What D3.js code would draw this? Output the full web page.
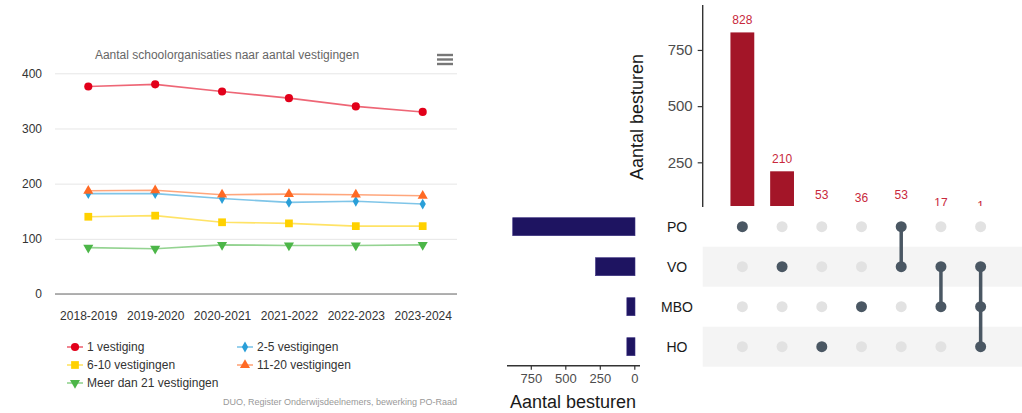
<!DOCTYPE html>
<html>
<head>
<meta charset="utf-8">
<script src="https://cdn.jsdelivr.net/npm/d3@7.9.0/dist/d3.min.js"></script>
<style>
  html, body { margin: 0; padding: 0; background: #fff; }
  svg { display: block; font-family: "Liberation Sans", Arial, Helvetica, sans-serif; }
</style>
</head>
<body>
<svg id="chart" width="1022" height="413"></svg>
<script>
// line chart data
const years = ['2018-2019', '2019-2020', '2020-2021', '2021-2022', '2022-2023', '2023-2024'];
const oneVestiging = [376, 380, 367, 355, 340, 330];
const twoToFive = [182, 182, 173, 166, 168, 163];
const sixToTen = [140, 142, 130, 128, 123, 123];
const elevenToTwenty = [187, 188, 180, 181, 180, 178];
const moreThan21 = [84, 82, 89, 88, 88, 89];
const yTicks = [0, 100, 200, 300, 400];

// upset data
const sets = ['PO', 'VO', 'MBO', 'HO'];
const combos = [['PO'], ['VO'], ['HO'], ['MBO'], ['PO', 'VO'], ['VO', 'MBO'], ['VO', 'MBO', 'HO']];
const comboCounts = [828, 210, 53, 36, 53, 17, 1];
const barTicks = [250, 500, 750];
const sizeTicks = [0, 250, 500, 750];

const svg = d3.select('#chart');

// ---------- left: line chart ----------
const series = [
  { name: '1 vestiging', values: oneVestiging, color: '#e2001a', symbol: d3.symbolCircle, size: 52, rot: 0 },
  { name: '2-5 vestigingen', values: twoToFive, color: '#2a9fd8', symbol: d3.symbolDiamond, size: 34, rot: 0 },
  { name: '6-10 vestigingen', values: sixToTen, color: '#ffd100', symbol: d3.symbolSquare, size: 60, rot: 0 },
  { name: '11-20 vestigingen', values: elevenToTwenty, color: '#ff6a24', symbol: d3.symbolTriangle, size: 44, rot: 0 },
  { name: 'Meer dan 21 vestigingen', values: moreThan21, color: '#4cb648', symbol: d3.symbolTriangle, size: 44, rot: 180 },
];

const x = d3.scalePoint().domain(years).range([88.3, 422.7]);
const y = d3.scaleLinear().domain([0, 400]).range([294, 73.3]);
const plotLeft = 55, plotRight = 457;

const left = svg.append('g');

left.append('text')
  .attr('x', 227).attr('y', 59)
  .attr('text-anchor', 'middle')
  .attr('font-size', 12)
  .attr('fill', '#666')
  .text('Aantal schoolorganisaties naar aantal vestigingen');

// menu icon
left.append('g').selectAll('line')
  .data([55, 59.5, 64])
  .join('line')
  .attr('x1', 437).attr('x2', 453)
  .attr('y1', d => d).attr('y2', d => d)
  .attr('stroke', '#777').attr('stroke-width', 2.4);

const yAxis = left.append('g')
  .attr('transform', `translate(${plotLeft},0)`)
  .call(d3.axisLeft(y).tickValues(yTicks).tickSize(-(plotRight - plotLeft)).tickPadding(13));
yAxis.select('.domain').remove();
yAxis.selectAll('line').attr('stroke', '#e6e6e6');
yAxis.selectAll('text').attr('font-size', 12).attr('fill', '#333').attr('font-family', null);

left.append('line')
  .attr('x1', plotLeft).attr('x2', plotRight)
  .attr('y1', y(0)).attr('y2', y(0))
  .attr('stroke', '#999').attr('stroke-width', 1.5);

const xAxis = left.append('g')
  .attr('transform', `translate(0,${y(0)})`)
  .call(d3.axisBottom(x).tickSize(0).tickPadding(17));
xAxis.select('.domain').remove();
xAxis.selectAll('text').attr('font-size', 12).attr('fill', '#333').attr('font-family', null);

const line = d3.line().x((d, i) => x(years[i])).y(d => y(d));

series.forEach(s => {
  left.append('path')
    .attr('d', line(s.values))
    .attr('fill', 'none')
    .attr('stroke', s.color)
    .attr('stroke-opacity', 0.6)
    .attr('stroke-width', 1.6);
  left.append('g').selectAll('path')
    .data(s.values)
    .join('path')
    .attr('d', d3.symbol(s.symbol, s.size))
    .attr('transform', (d, i) => `translate(${x(years[i])},${y(d)}) rotate(${s.rot})`)
    .attr('fill', s.color);
});

// legend
const legendPos = [[75, 347], [245, 347], [75, 365], [245, 365], [75, 383]];
series.forEach((s, i) => {
  const [lx, ly] = legendPos[i];
  const g = left.append('g').attr('transform', `translate(${lx},${ly})`);
  g.append('line').attr('x1', -8).attr('x2', 8)
    .attr('stroke', s.color).attr('stroke-opacity', 0.6).attr('stroke-width', 1.6);
  g.append('path').attr('d', d3.symbol(s.symbol, s.size)).attr('transform', `rotate(${s.rot})`).attr('fill', s.color);
  g.append('text').attr('x', 12).attr('dy', '0.35em')
    .attr('font-size', 12).attr('fill', '#333').text(s.name);
});

left.append('text')
  .attr('x', 457).attr('y', 405)
  .attr('text-anchor', 'end')
  .attr('font-size', 9)
  .attr('fill', '#999')
  .text('DUO, Register Onderwijsdeelnemers, bewerking PO-Raad');

// ---------- right: upset plot ----------
const right = svg.append('g');
const axisX = 702.7, topBottom = 206;

const cx = d3.scaleBand().domain(d3.range(combos.length)).range([722.5, 1000.5]).paddingInner(0.4).paddingOuter(0.2);
const by = d3.scaleLinear().domain([0, 950]).range([218.5, 5]);
const ry = d3.scaleBand().domain(sets).range([206.7, 366.7]);

// stripes
right.append('g').selectAll('rect')
  .data(sets.filter((d, i) => i % 2 === 1))
  .join('rect')
  .attr('x', axisX).attr('width', 1022 - axisX)
  .attr('y', d => ry(d)).attr('height', ry.bandwidth())
  .attr('fill', '#f4f4f4');

right.append('clipPath').attr('id', 'barclip')
  .append('rect').attr('x', axisX).attr('y', 0).attr('width', 1022 - axisX).attr('height', topBottom);

const barG = right.append('g').attr('clip-path', 'url(#barclip)');
barG.selectAll('rect')
  .data(comboCounts)
  .join('rect')
  .attr('x', (d, i) => cx(i))
  .attr('width', cx.bandwidth())
  .attr('y', d => by(d))
  .attr('height', d => by(0) - by(d))
  .attr('fill', '#a31528');
barG.selectAll('text')
  .data(comboCounts)
  .join('text')
  .attr('x', (d, i) => cx(i) + cx.bandwidth() / 2)
  .attr('y', d => by(d) - 8)
  .attr('text-anchor', 'middle')
  .attr('font-size', 12)
  .attr('fill', '#c8283c')
  .text(d => d);

const barAxis = right.append('g')
  .attr('transform', `translate(${axisX},0)`)
  .call(d3.axisLeft(by).tickValues(barTicks).tickSize(5).tickPadding(5));
barAxis.select('.domain').remove();
barAxis.selectAll('line').attr('stroke', '#333').attr('stroke-width', 1.2);
barAxis.selectAll('text').attr('font-size', 15).attr('fill', '#4d4d4d').attr('font-family', null);
right.append('line')
  .attr('x1', axisX).attr('x2', axisX).attr('y1', 5).attr('y2', 207)
  .attr('stroke', '#333').attr('stroke-width', 1.4);

right.append('text')
  .attr('transform', `translate(643,117) rotate(-90)`)
  .attr('text-anchor', 'middle')
  .attr('font-size', 18)
  .attr('fill', '#1a1a1a')
  .text('Aantal besturen');

// set labels
right.append('g').selectAll('text')
  .data(sets)
  .join('text')
  .attr('x', 677)
  .attr('y', d => ry(d) + ry.bandwidth() / 2)
  .attr('dy', '0.35em')
  .attr('text-anchor', 'middle')
  .attr('font-size', 14)
  .attr('fill', '#1a1a1a')
  .text(d => d);

// matrix
const dotData = [];
combos.forEach((c, i) => sets.forEach(s => dotData.push({ i, s, on: c.includes(s) })));
right.append('g').selectAll('circle')
  .data(dotData.filter(d => !d.on))
  .join('circle')
  .attr('cx', d => cx(d.i) + cx.bandwidth() / 2)
  .attr('cy', d => ry(d.s) + ry.bandwidth() / 2)
  .attr('r', 5.5)
  .attr('fill', '#e2e2e2');

right.append('g').selectAll('line')
  .data(combos.map((c, i) => ({ c, i })).filter(d => d.c.length > 1))
  .join('line')
  .attr('x1', d => cx(d.i) + cx.bandwidth() / 2)
  .attr('x2', d => cx(d.i) + cx.bandwidth() / 2)
  .attr('y1', d => d3.min(d.c, s => ry(s)) + ry.bandwidth() / 2)
  .attr('y2', d => d3.max(d.c, s => ry(s)) + ry.bandwidth() / 2)
  .attr('stroke', '#4a5763')
  .attr('stroke-width', 3.5);

right.append('g').selectAll('circle')
  .data(dotData.filter(d => d.on))
  .join('circle')
  .attr('cx', d => cx(d.i) + cx.bandwidth() / 2)
  .attr('cy', d => ry(d.s) + ry.bandwidth() / 2)
  .attr('r', 5.5)
  .attr('fill', '#4a5763');

// set sizes
const setSizes = sets.map(s => d3.sum(combos, (c, i) => c.includes(s) ? comboCounts[i] : 0));
const sx = d3.scaleLinear().domain([0, 750]).range([634.3, 530.8]);

right.append('g').selectAll('rect')
  .data(sets)
  .join('rect')
  .attr('x', (d, i) => sx(setSizes[i]))
  .attr('width', (d, i) => sx(0) - sx(setSizes[i]) + 0.7)
  .attr('y', d => ry(d) + ry.bandwidth() / 2 - 9)
  .attr('height', 18)
  .attr('fill', '#1e1461')
  .attr('stroke', '#3a2f80')
  .attr('stroke-width', 0.6);

const sizeAxis = right.append('g')
  .attr('transform', 'translate(0,365.7)')
  .call(d3.axisBottom(sx).tickValues(sizeTicks).tickSize(4).tickPadding(4).tickSizeOuter(0));
sizeAxis.select('.domain').remove();
sizeAxis.selectAll('line').attr('stroke', '#333').attr('stroke-width', 1.2);
sizeAxis.selectAll('text').attr('font-size', 13).attr('fill', '#4d4d4d').attr('font-family', null);
right.append('line')
  .attr('x1', 507).attr('x2', 640).attr('y1', 365.7).attr('y2', 365.7)
  .attr('stroke', '#333').attr('stroke-width', 1.4);

right.append('text')
  .attr('x', 573).attr('y', 408)
  .attr('text-anchor', 'middle')
  .attr('font-size', 18)
  .attr('fill', '#1a1a1a')
  .text('Aantal besturen');
</script>
</body>
</html>
